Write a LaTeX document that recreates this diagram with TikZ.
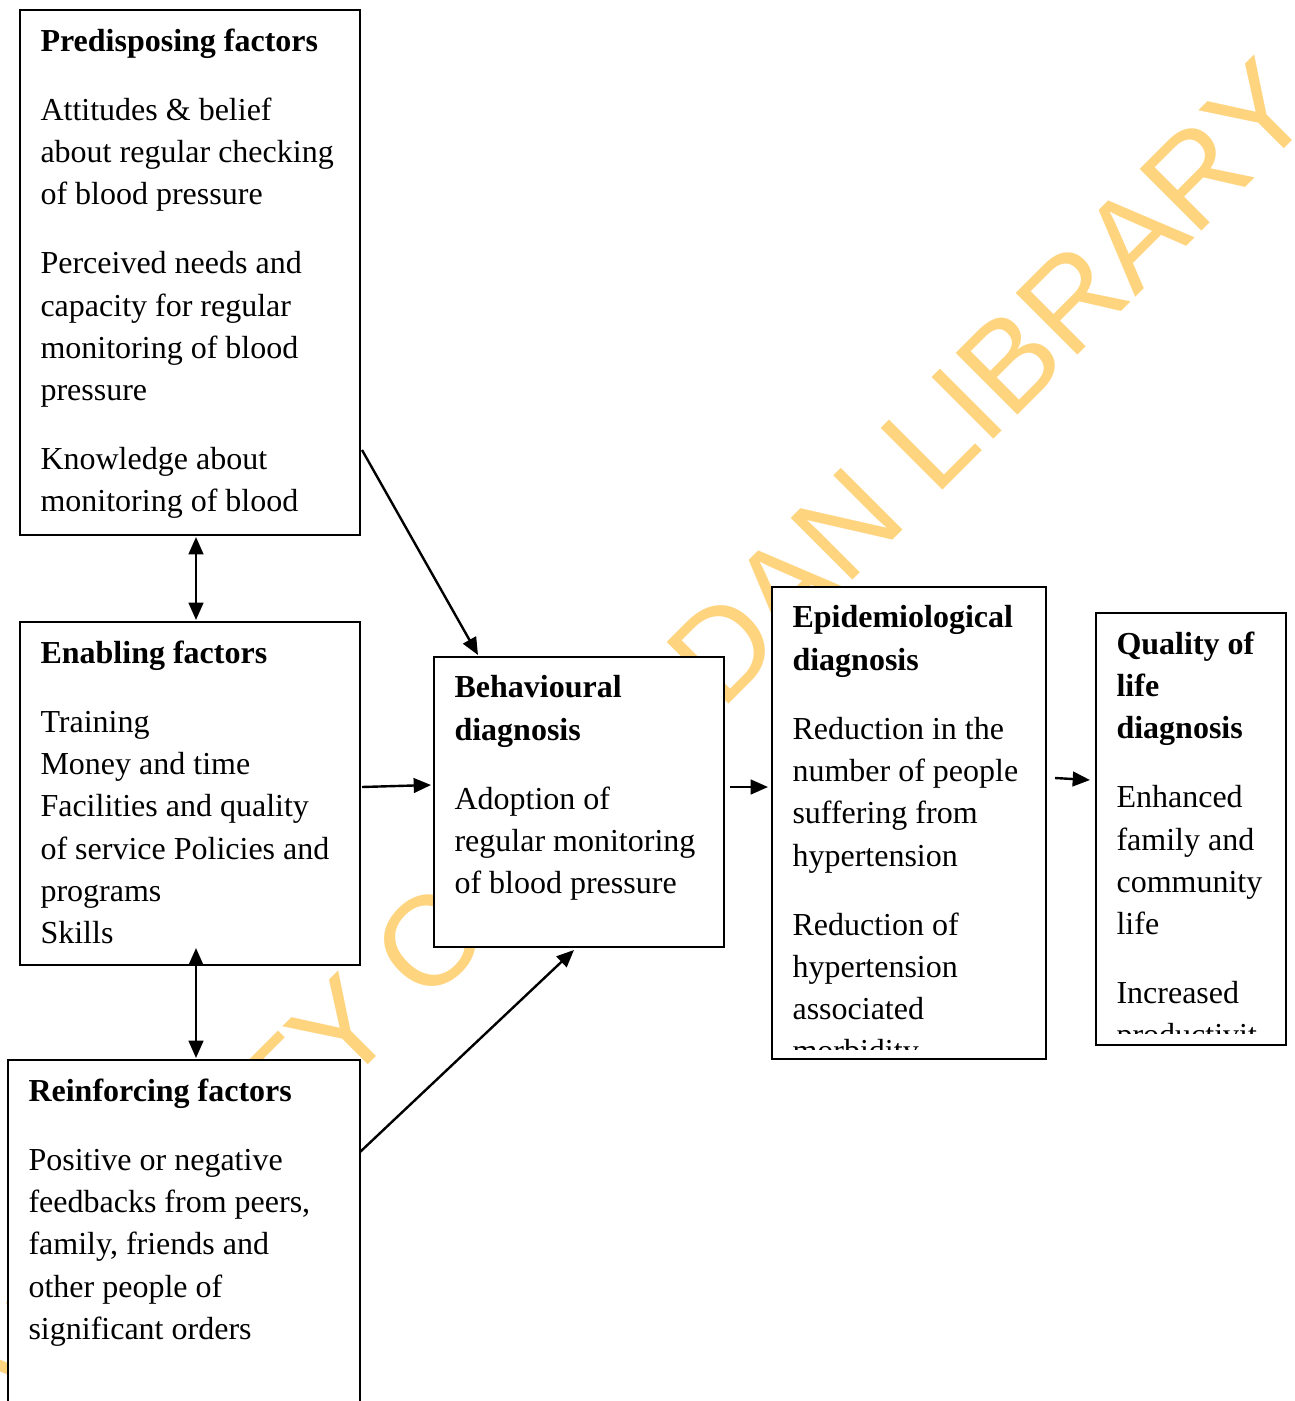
\documentclass[tikz,border=0pt]{standalone}
\usepackage{fontspec}
\setmainfont{Liberation Serif}
\newfontfamily\markfont{Liberation Sans}
\usetikzlibrary{arrows.meta}
\definecolor{stamp}{HTML}{FFD47F}

\tikzstyle{factor} = [rectangle, draw, fill=white, line width=0.9pt, inner sep=0pt, outer sep=0pt, anchor=north west]
\tikzstyle{content} = [anchor=north west, inner sep=0pt, align=left, font=\fontsize{12}{15.87}\selectfont, execute at begin node=\strut]
\tikzstyle{arrow} = [line width=0.9pt, -{Triangle[length=6.5pt,width=5.5pt]}, draw]
\tikzstyle{twoway} = [line width=0.9pt, {Triangle[length=6.5pt,width=5.5pt]}-{Triangle[length=6.5pt,width=5.5pt]}, draw]

\begin{document}
\begin{tikzpicture}[x=0.375pt,y=-0.375pt]

\useasboundingbox (0,0) rectangle (1294,1401);
\clip (0,0) rectangle (1294,1401);

	%Library stamp behind the boxes
	\node[font=\markfont\fontsize{47.6}{50}\selectfont, text=stamp, rotate=45, anchor=base west, inner sep=0pt](Stamp) at (-137,1570) {UNIVERSITY OF IBADAN LIBRARY};

	%Boxes for the factors
	\node[factor, minimum width=127.5pt, minimum height=196.875pt](Predisposing) at (20,10) {};
	\node[factor, minimum width=127.5pt, minimum height=128.625pt](Enabling) at (20,622) {};
	\node[factor, minimum width=132pt, minimum height=142.5pt](Reinforcing) at (8,1060) {};

	%Boxes for the diagnoses
	\node[factor, minimum width=108.75pt, minimum height=108.75pt](Behavioural) at (434,657) {};
	\node[factor, minimum width=102.75pt, minimum height=177pt](Epidemiological) at (772,587) {};
	\node[factor, minimum width=71.25pt, minimum height=162pt](Quality) at (1096,613) {};

	%Text inside the boxes
	\node[content](Predisposing_text) at ([shift={(20,18)}]Predisposing.north west) {\textbf{Predisposing factors}\\[10pt]
		Attitudes \& belief\\ about regular checking\\ of blood pressure\\[10pt]
		Perceived needs and\\ capacity for regular\\ monitoring of blood\\ pressure\\[10pt]
		Knowledge about\\ monitoring of blood};
	\node[content](Enabling_text) at ([shift={(20,18)}]Enabling.north west) {\textbf{Enabling factors}\\[10pt]
		Training\\ Money and time\\ Facilities and quality\\ of service Policies and\\ programs\\ Skills};
	\node[content](Reinforcing_text) at ([shift={(20,18)}]Reinforcing.north west) {\textbf{Reinforcing factors}\\[10pt]
		Positive or negative\\ feedbacks from peers,\\ family, friends and\\ other people of\\ significant orders};
	\node[content](Behavioural_text) at ([shift={(20,18)}]Behavioural.north west) {\textbf{Behavioural}\\ \textbf{diagnosis}\\[10pt]
		Adoption of\\ regular monitoring\\ of blood pressure};
	\begin{scope}
	\clip ([shift={(2,2)}]Epidemiological.north west) rectangle ([shift={(-2,-10)}]Epidemiological.south east);
	\node[content](Epidemiological_text) at ([shift={(20,18)}]Epidemiological.north west) {\textbf{Epidemiological}\\ \textbf{diagnosis}\\[10pt]
		Reduction in the\\ number of people\\ suffering from\\ hypertension\\[10pt]
		Reduction of\\ hypertension\\ associated\\ morbidity};
	\end{scope}
	\begin{scope}
	\clip ([shift={(2,2)}]Quality.north west) rectangle ([shift={(-2,-12)}]Quality.south east);
	\node[content](Quality_text) at ([shift={(20,18)}]Quality.north west) {\textbf{Quality of}\\ \textbf{life}\\ \textbf{diagnosis}\\[10pt]
		Enhanced\\ family and\\ community\\ life\\[10pt]
		Increased\\ productivit};
	\end{scope}

	%Arrows between the boxes
	\path[arrow] ([shift={(2,440)}]Predisposing.north east) -- ([shift={(44,-2)}]Behavioural.north west);
	\path[twoway] ([shift={(6,2)}]Predisposing.south) -- ([shift={(6,-2)}]Enabling.north);
	\path[twoway] ([shift={(6,-17)}]Enabling.south) -- ([shift={(12,-2)}]Reinforcing.north);
	\path[arrow] ([shift={(2,165)}]Enabling.north east) -- ([shift={(-3,128)}]Behavioural.north west);
	\path[arrow] ([shift={(0,92)}]Reinforcing.north east) -- ([shift={(140,3)}]Behavioural.south west);
	\path[arrow] ([shift={(6,130)}]Behavioural.north east) -- ([shift={(-4,200)}]Epidemiological.north west);
	\path[arrow] ([shift={(9,191)}]Epidemiological.north east) -- ([shift={(-6,167)}]Quality.north west);

\end{tikzpicture}
\end{document}
